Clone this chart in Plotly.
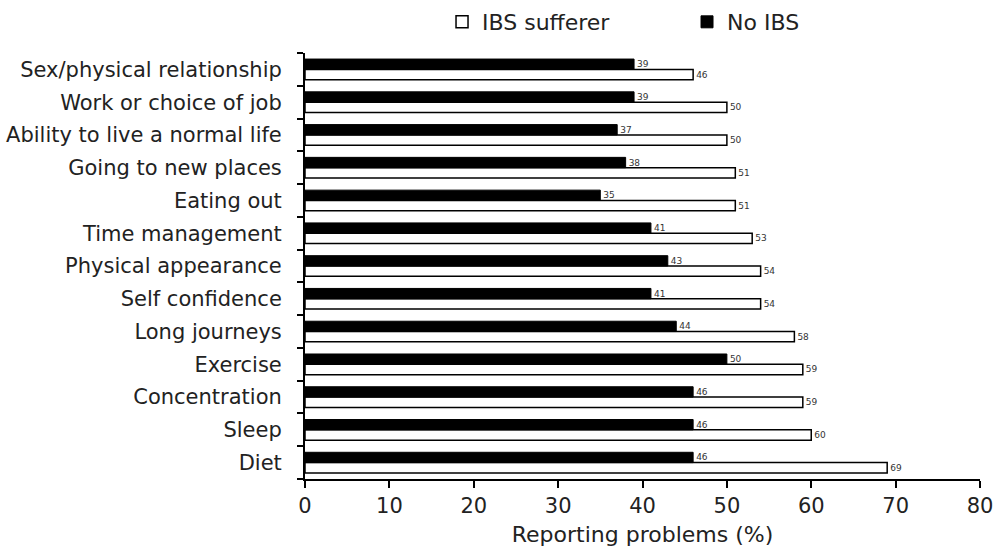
import plotly.graph_objects as go

# Quality-of-life areas, listed bottom to top on the category axis
areas = [
    "Diet", "Sleep", "Concentration", "Exercise", "Long journeys",
    "Self confidence", "Physical appearance", "Time management",
    "Eating out", "Going to new places", "Ability to live a normal life",
    "Work or choice of job", "Sex/physical relationship",
]
ibs_sufferer = [69, 60, 59, 59, 58, 54, 54, 53, 51, 51, 50, 50, 46]
no_ibs = [46, 46, 46, 50, 44, 41, 43, 41, 35, 38, 37, 39, 39]
x_ticks = [0, 10, 20, 30, 40, 50, 60, 70, 80]

FONT = "DejaVu Sans, Liberation Sans, Arial, sans-serif"
TEXT = "#222"

fig = go.Figure()
fig.add_trace(go.Bar(
    name="IBS sufferer", y=areas, x=ibs_sufferer, orientation="h",
    marker=dict(color="white", line=dict(color="black", width=1.5)),
    text=ibs_sufferer, textposition="outside", cliponaxis=False,
    textfont=dict(size=9, color="#333", family=FONT),
))
fig.add_trace(go.Bar(
    name="No IBS", y=areas, x=no_ibs, orientation="h",
    marker=dict(color="black", line=dict(color="black", width=1)),
    text=no_ibs, textposition="outside", cliponaxis=False,
    textfont=dict(size=9, color="#333", family=FONT),
))

fig.update_layout(
    width=999, height=548,
    margin=dict(l=305, r=19, t=53, b=69, autoexpand=False),
    paper_bgcolor="white", plot_bgcolor="white",
    barmode="group", bargap=0.37, bargroupgap=0,
    font=dict(family=FONT, size=20, color=TEXT),
    showlegend=True,
    legend=dict(
        orientation="h", x=0.203, y=1.122, xanchor="left", yanchor="top",
        entrywidth=200, entrywidthmode="pixels",
        bgcolor="rgba(0,0,0,0)",
        font=dict(size=22, color=TEXT), traceorder="normal",
    ),
    xaxis=dict(
        range=[0, 80], tickvals=x_ticks, ticktext=[str(v) for v in x_ticks],
        automargin=False,
        showgrid=False, zeroline=False, showline=True,
        linecolor="black", linewidth=2,
        ticks="outside", ticklen=7, tickwidth=2, tickcolor="black",
        tickfont=dict(size=21, color=TEXT),
        title=dict(text="Reporting problems (%)", font=dict(size=22, color=TEXT), standoff=9),
    ),
    yaxis=dict(
        type="category", categoryorder="array", categoryarray=areas,
        range=[-0.5, 12.5], automargin=False,
        showgrid=False, zeroline=False, showline=True,
        linecolor="black", linewidth=2,
        ticks="outside", tickson="boundaries", ticklen=6, tickwidth=2, tickcolor="black",
        ticklabelstandoff=17,
        tickfont=dict(size=21, color=TEXT),
    ),
)

fig.write_html("out.html")
